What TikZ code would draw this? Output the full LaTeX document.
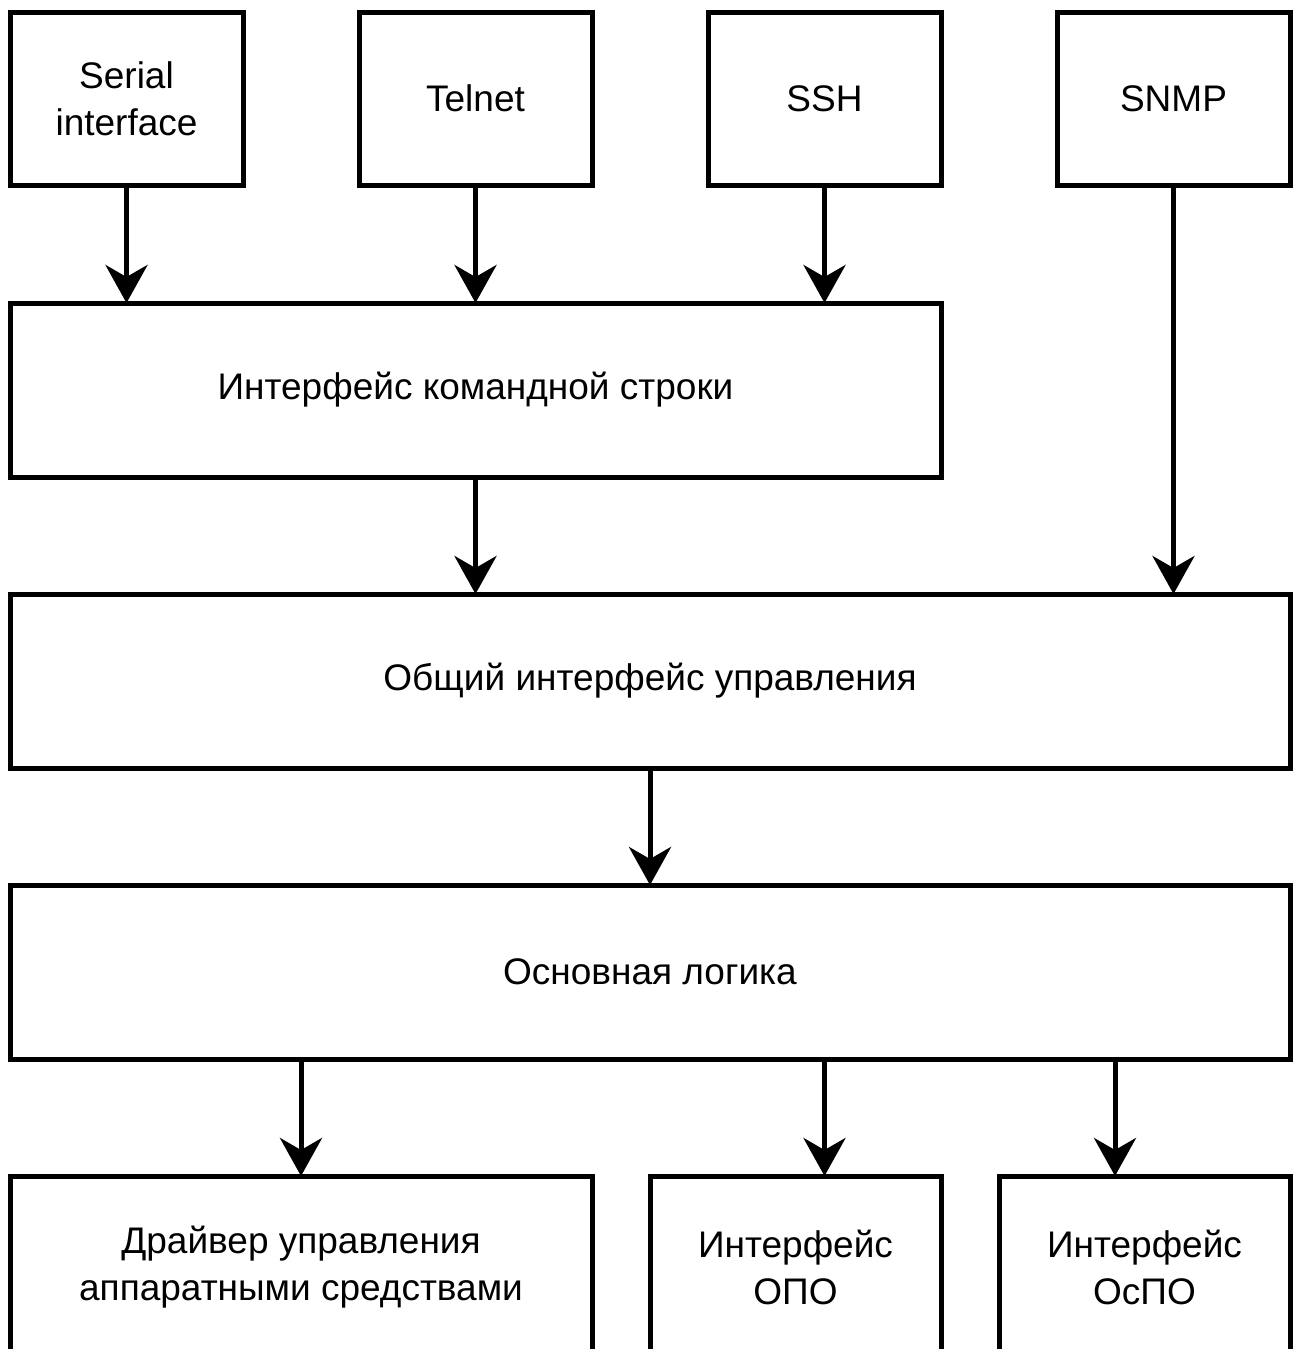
\documentclass[tikz,border=0pt]{standalone}
\usepackage{fontspec}
\setmainfont{Liberation Sans}
\usetikzlibrary{arrows.meta,calc}
\begin{document}
\begin{tikzpicture}[x=1pt,y=-1pt,
  box/.style={draw=black, line width=5pt, fill=white, inner sep=0pt, outer sep=0pt,
    align=center, font=\fontsize{37}{47}\selectfont, text=black},
  conn/.style={line width=5pt, -{Stealth[length=38pt,width=42pt,inset=12pt]}}]
\clip (0,0) rectangle (1293,1349);
\useasboundingbox (0,0) rectangle (1293,1349);
\fill[white] (0,0) rectangle (1293,1349);
% top row
\node[box, minimum width=233pt, minimum height=173pt] (ser) at (126.5,98.5) {Serial\\interface};
\node[box, minimum width=233pt, minimum height=173pt] (tel) at (475.5,98.5) {Telnet};
\node[box, minimum width=233pt, minimum height=173pt] (ssh) at (824.5,98.5) {SSH};
\node[box, minimum width=233pt, minimum height=173pt] (snmp) at (1173.5,98.5) {SNMP};
% CLI
\node[box, minimum width=931pt, minimum height=174pt] (cli) at (475.5,390) {Интерфейс командной строки};
% general
\node[box, minimum width=1280pt, minimum height=174pt] (gen) at (650,681) {Общий интерфейс управления};
% logic
\node[box, minimum width=1280pt, minimum height=174pt] (log) at (650,972) {Основная логика};
% bottom
\node[box, minimum width=582pt, minimum height=183pt] (drv) at (301,1267.5) {Драйвер управления\\аппаратными средствами};
\node[box, minimum width=291pt, minimum height=183pt] (opo) at (795.5,1267.5) {Интерфейс\\ОПО};
\node[box, minimum width=291pt, minimum height=183pt] (ospo) at (1144.5,1267.5) {Интерфейс\\ОсПО};
% connectors
\draw[conn] (ser.south) -- (ser.south |- cli.north);
\draw[conn] (tel.south) -- (tel.south |- cli.north);
\draw[conn] (ssh.south) -- (ssh.south |- cli.north);
\draw[conn] (snmp.south) -- (snmp.south |- gen.north);
\draw[conn] (cli.south) -- (cli.south |- gen.north);
\draw[conn] (gen.south) -- (log.north);
\draw[conn] (log.south -| drv.north) -- (drv.north);
\draw[conn] (log.south -| ssh.south) -- (opo.north -| ssh.south);
\draw[conn] ([xshift=-29.5pt]ospo.north |- log.south) -- ([xshift=-29.5pt]ospo.north);
\end{tikzpicture}
\end{document}
